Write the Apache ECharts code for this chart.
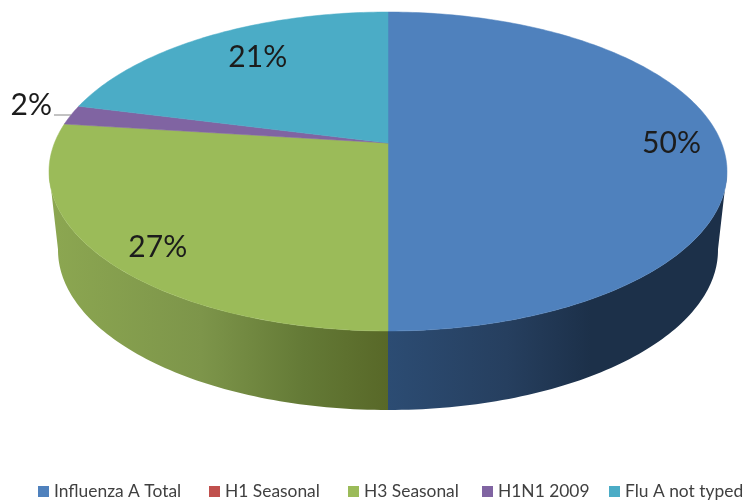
<!DOCTYPE html>
<html>
<head>
<meta charset="utf-8">
<style>
  html, body { margin: 0; padding: 0; background: #fff; }
  #chart { width: 744px; height: 502px; }
</style>
<script src="https://cdn.jsdelivr.net/npm/echarts@6/dist/echarts.min.js"></script>
</head>
<body>
<div id="chart"></div>
<script>
const categories = ['Influenza A Total', 'H1 Seasonal', 'H3 Seasonal', 'H1N1 2009', 'Flu A not typed']
const values = [50, 0, 27, 2, 21]

const colors = ['#4f81bd', '#c0504d', '#9bbb59', '#8064a2', '#4bacc6']
// wall shading per slice, offset + colour from left to right
const sideColors = [
  [[0, '#2c4c73'], [0.35, '#263f5f'], [0.6, '#1c3049'], [1, '#1c3049']],
  [[0, '#7a302e'], [1, '#7a302e']],
  [[0, '#8ca751'], [0.45, '#7d954a'], [0.75, '#647a36'], [1, '#586828']],
  [[0, '#4d3c62'], [1, '#4d3c62']],
  [[0, '#2d6778'], [1, '#2d6778']]
]

// top face and bottom face of the disc, with a tilt so the centre sits above the ellipse middle
const topFace = { cx: 388, cy: 171.5, rx: 339, ry: 159.5, lift: 28.5 }
const bottomFace = { cx: 388, cy: 250, rx: 330, ry: 160, lift: 28.5 }

// the wall is only seen between the two points where the faces touch the silhouette
const wallFrom = 100
const wallTo = 260

// label spot: r along the mid angle of the slice, dy is a small nudge
const labelSpots = [
  { r: 0.85, dy: 0 },
  null,
  { r: 0.83, dy: 10 },
  { r: 1.13, dy: -6, leader: 17 },
  { r: 0.7, dy: -8 }
]

// one legend per item, the gaps in the picture are not even
const legendLefts = [38, 209, 348, 482, 609]

const total = values.reduce((a, b) => a + b, 0)

const project = (face, deg, r = 1) => {
  const t = deg * Math.PI / 180
  const X = Math.sin(t) * r
  const Y = Math.cos(t) * r
  const a = face.lift / face.ry
  const w = 1 + a * Y
  return [
    face.cx + face.rx * Math.sqrt(1 - a * a) * X / w,
    face.cy - (face.ry * Y + face.lift) / w
  ]
}

const arc = (face, from, to) => {
  const pts = []
  const steps = Math.max(1, Math.ceil(Math.abs(to - from)))
  for (let i = 0; i <= steps; i++) {
    pts.push(project(face, from + (to - from) * i / steps))
  }
  return pts
}

const sliceRange = (index) => {
  const before = values.slice(0, index).reduce((a, b) => a + b, 0)
  return [before / total * 360, (before + values[index]) / total * 360]
}

const renderSlice = (index) => () => {
  const children = []
  if (!values[index]) return { type: 'group', children }
  const [start, end] = sliceRange(index)

  // outer wall
  const sideFrom = Math.max(start, wallFrom)
  const sideTo = Math.min(end, wallTo)
  if (sideTo > sideFrom) {
    const wall = arc(topFace, sideFrom, sideTo).concat(arc(bottomFace, sideFrom, sideTo).reverse())
    children.push({
      type: 'polygon',
      shape: { points: wall },
      style: {
        fill: new echarts.graphic.LinearGradient(0, 0, 1, 0, sideColors[index].map(([offset, color]) => ({ offset, color })))
      }
    })
  }

  // top face
  children.push({
    type: 'polygon',
    shape: { points: [project(topFace, 0, 0)].concat(arc(topFace, start, end)) },
    style: { fill: colors[index], stroke: colors[index], lineWidth: 0.5 }
  })

  // label
  const spot = labelSpots[index]
  if (spot) {
    const mid = (start + end) / 2
    const p = project(topFace, mid, spot.r)
    if (spot.leader) {
      const edge = project(topFace, mid)
      children.push({
        type: 'line',
        shape: { x1: edge[0] - spot.leader, y1: edge[1], x2: edge[0], y2: edge[1] },
        style: { stroke: '#868686', lineWidth: 1 }
      })
    }
    children.push({
      type: 'text',
      z2: 10,
      style: {
        x: p[0],
        y: p[1] + spot.dy,
        text: Math.round(values[index] / total * 100) + '%',
        align: 'center',
        verticalAlign: 'middle',
        font: '30px Lato',
        fill: '#1c1c1c'
      }
    })
  }
  return { type: 'group', children }
}

const chart = echarts.init(document.getElementById('chart'))
chart.setOption({
  animation: false,
  legend: categories.map((name, i) => ({
    data: [name],
    left: legendLefts[i],
    top: 483,
    padding: 0,
    icon: 'rect',
    itemWidth: 11,
    itemHeight: 11,
    textStyle: { fontFamily: 'Lato', fontSize: 17.4, color: '#404040' }
  })),
  series: categories.map((name, i) => ({
    type: 'custom',
    name,
    silent: true,
    coordinateSystem: 'none',
    itemStyle: { color: colors[i] },
    data: [values[i]],
    renderItem: renderSlice(i)
  }))
})

window.addEventListener('resize', () => chart.resize())
</script>
</body>
</html>
